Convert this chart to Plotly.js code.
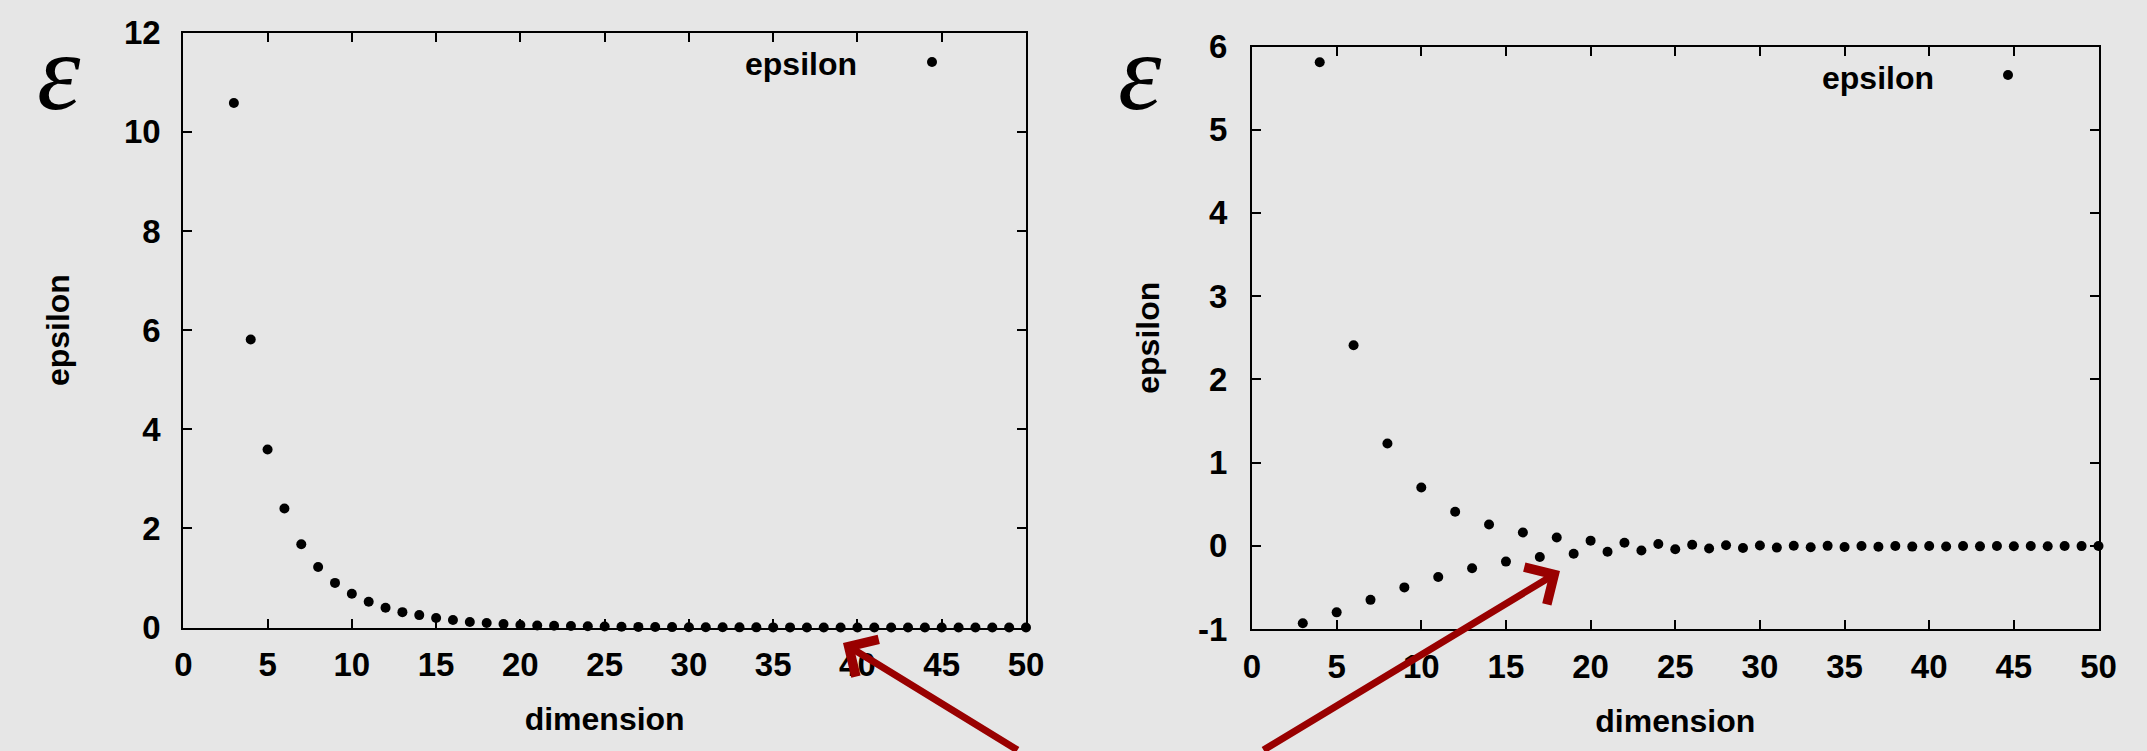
<!DOCTYPE html>
<html>
<head>
<meta charset="utf-8">
<script src="https://cdn.plot.ly/plotly-3.0.1.min.js"></script>
<style>
  html, body { margin: 0; padding: 0; background: #e6e6e6; }
  #chart { width: 2147px; height: 751px; }
</style>
</head>
<body>
<div id="chart"></div>
<script>
// ---- data ----
const dimension = [3, 4, 5, 6, 7, 8, 9, 10, 11, 12, 13, 14, 15, 16, 17, 18, 19, 20,
  21, 22, 23, 24, 25, 26, 27, 28, 29, 30, 31, 32, 33, 34, 35, 36, 37, 38, 39, 40,
  41, 42, 43, 44, 45, 46, 47, 48, 49, 50];

const epsilonLeft = [10.58, 5.81, 3.59, 2.40, 1.68, 1.22, 0.90, 0.68, 0.52, 0.40,
  0.31, 0.25, 0.19, 0.15, 0.11, 0.09, 0.07, 0.05, 0.04, 0.035, 0.03, 0.025, 0.02,
  0.015, 0.012, 0.01, 0.008, 0.006, 0.005, 0.004, 0.003, 0.003, 0.002, 0.002,
  0.001, 0.001, 0.001, 0.001, 0.0, 0.0, 0.0, 0.0, 0.0, 0.0, 0.0, 0.0, 0.0, 0.0];

const epsilonRight = [-0.93, 5.81, -0.80, 2.41, -0.65, 1.23, -0.50, 0.70, -0.375,
  0.41, -0.27, 0.255, -0.19, 0.16, -0.135, 0.10, -0.095, 0.062, -0.072, 0.036,
  -0.056, 0.022, -0.042, 0.012, -0.033, 0.006, -0.027, 0.003, -0.022, 0.0, -0.018,
  -0.001, -0.015, -0.002, -0.012, -0.002, -0.010, -0.003, -0.008, -0.003, -0.007,
  -0.003, -0.006, -0.003, -0.005, -0.003, -0.004, -0.003];

const xTicks = [0, 5, 10, 15, 20, 25, 30, 35, 40, 45, 50];
const yTicksLeft = [0, 2, 4, 6, 8, 10, 12];
const yTicksRight = [-1, 0, 1, 2, 3, 4, 5, 6];
const seriesName = 'epsilon';
const xTitle = 'dimension';
const yTitle = 'epsilon';
const symbolText = 'ε';

// ---- layout helpers ----
const W = 2147, H = 751;
const px = v => v / W;
const py = v => 1 - v / H;
const FONT = 'Liberation Sans, Arial, sans-serif';
const boldFont = size => ({family: FONT, size: size, color: '#000', weight: 'bold'});

function xaxisCfg(domain, anchor) {
  return {
    domain: domain, anchor: anchor, range: [0, 50],
    tickvals: xTicks, ticktext: xTicks.map(String),
    ticks: 'inside', ticklen: 9, tickwidth: 2, tickcolor: '#000',
    showline: true, linecolor: '#000', linewidth: 2, mirror: 'ticks',
    showgrid: false, zeroline: false,
    tickfont: boldFont(33),
    ticklabelstandoff: 7,
    title: {text: xTitle, font: boldFont(32), standoff: 26},
    fixedrange: true
  };
}
function yaxisCfg(domain, anchor, range, ticks, standoff, tstand) {
  return {
    domain: domain, anchor: anchor, range: range,
    tickvals: ticks, ticktext: ticks.map(String),
    ticks: 'inside', ticklen: 9, tickwidth: 2, tickcolor: '#000',
    showline: true, linecolor: '#000', linewidth: 2, mirror: 'ticks',
    showgrid: false, zeroline: false,
    tickfont: boldFont(33),
    ticklabelstandoff: tstand,
    title: {text: yTitle, font: boldFont(32), standoff: standoff},
    fixedrange: true
  };
}

const traces = [
  {x: dimension, y: epsilonLeft, xaxis: 'x', yaxis: 'y', type: 'scatter', mode: 'markers',
   name: seriesName, marker: {color: '#000', size: 10}, cliponaxis: false, showlegend: false},
  {x: dimension, y: epsilonRight, xaxis: 'x2', yaxis: 'y2', type: 'scatter', mode: 'markers',
   name: seriesName, marker: {color: '#000', size: 10}, cliponaxis: false, showlegend: false}
];

const layout = {
  width: W, height: H,
  margin: {l: 0, r: 0, t: 0, b: 0},
  paper_bgcolor: '#e6e6e6', plot_bgcolor: 'rgba(0,0,0,0)',
  showlegend: false,
  xaxis: xaxisCfg([px(183.3), px(1026)], 'y'),
  yaxis: yaxisCfg([py(627.5), py(32.7)], 'x', [0, 12], yTicksLeft, 45, 14),
  xaxis2: xaxisCfg([px(1252), px(2098.5)], 'y2'),
  yaxis2: yaxisCfg([py(629), py(46.5)], 'x2', [-1, 6], yTicksRight, 29, 16),
  shapes: [
    {type: 'circle', xref: 'paper', yref: 'paper', xsizemode: 'pixel', ysizemode: 'pixel',
     xanchor: px(932), yanchor: py(62), x0: -5, x1: 5, y0: -5, y1: 5,
     fillcolor: '#000', line: {width: 0}},
    {type: 'circle', xref: 'paper', yref: 'paper', xsizemode: 'pixel', ysizemode: 'pixel',
     xanchor: px(2008), yanchor: py(75), x0: -5, x1: 5, y0: -5, y1: 5,
     fillcolor: '#000', line: {width: 0}}
  ],
  annotations: [
    {xref: 'paper', yref: 'paper', x: px(859), y: py(64), xanchor: 'right', yanchor: 'middle',
     text: seriesName, showarrow: false, font: boldFont(32)},
    {xref: 'paper', yref: 'paper', x: px(1936), y: py(78), xanchor: 'right', yanchor: 'middle',
     text: seriesName, showarrow: false, font: boldFont(32)},
    {xref: 'paper', yref: 'paper', x: px(59), y: py(72), xanchor: 'center', yanchor: 'middle',
     text: symbolText, showarrow: false,
     font: {family: 'Liberation Serif, serif', size: 110, color: '#000', style: 'italic'}},
    {xref: 'paper', yref: 'paper', x: px(1140), y: py(72), xanchor: 'center', yanchor: 'middle',
     text: symbolText, showarrow: false,
     font: {family: 'Liberation Serif, serif', size: 110, color: '#000', style: 'italic'}},
    {xref: 'paper', yref: 'paper', x: px(843), y: py(643), text: '', showarrow: true,
     arrowhead: 4, arrowsize: 1.2, arrowwidth: 7, arrowcolor: '#990000',
     ax: 176, ay: 108, standoff: 0, startstandoff: 0},
    {xref: 'paper', yref: 'paper', x: px(1560), y: py(571), text: '', showarrow: true,
     arrowhead: 4, arrowsize: 1.2, arrowwidth: 7, arrowcolor: '#990000',
     ax: -298, ay: 180, standoff: 0, startstandoff: 0}
  ]
};

Plotly.newPlot('chart', traces, layout, {displayModeBar: false, staticPlot: true});
</script>
</body>
</html>
